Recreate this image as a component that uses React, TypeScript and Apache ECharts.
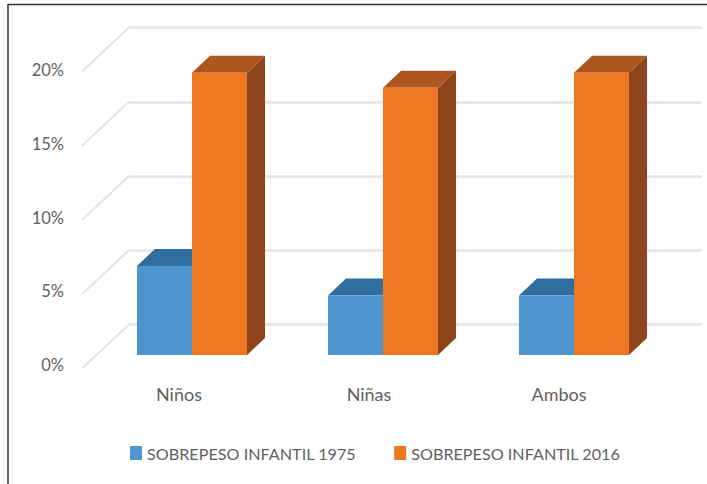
import React, { useEffect, useRef } from "react";
import * as echarts from "echarts";

const categories = ["Niños", "Niñas", "Ambos"];
const seriesNames = ["SOBREPESO INFANTIL 1975", "SOBREPESO INFANTIL 2016"];
const values1975 = [6, 4, 4];
const values2016 = [19, 18, 19];
const wallTicks = [0, 5, 10, 15, 20];

const FONT = "Lato, 'Open Sans', sans-serif";
const TEXT = "#5f5f63";
const GRID_LINE = "#e4e4e4";
const DEPTH_X = 18;
const DEPTH_Y = 17;
const BAR_RATIO = 0.288;

const faces = [
  { front: "#4e95d0", top: "#2f6e9e", side: "#2a6290", shift: -1 },
  { front: "#ee7722", top: "#ae5620", side: "#8f451b", shift: 0 },
];

function barRenderer(face: (typeof faces)[number]) {
  return (_: any, api: any) => {
    const [cx, yTop] = api.coord([api.value(0), api.value(1)]);
    const [, yBase] = api.coord([api.value(0), 0]);
    const w = api.size([1, 0])[0] * BAR_RATIO;
    const x0 = cx + face.shift * w;
    const x1 = x0 + w;
    return {
      type: "group",
      children: [
        {
          type: "polygon",
          shape: { points: [[x1, yTop], [x1 + DEPTH_X, yTop - DEPTH_Y], [x1 + DEPTH_X, yBase - DEPTH_Y], [x1, yBase]] },
          style: { fill: face.side },
        },
        {
          type: "polygon",
          shape: { points: [[x0, yTop], [x0 + DEPTH_X, yTop - DEPTH_Y], [x1 + DEPTH_X, yTop - DEPTH_Y], [x1, yTop]] },
          style: { fill: face.top },
        },
        {
          type: "rect",
          shape: { x: x0, y: yTop, width: w, height: yBase - yTop },
          style: { fill: face.front },
        },
      ],
    };
  };
}

function diagonalRenderer(_: any, api: any) {
  const [x, y] = api.coord([0, api.value(1)]);
  return {
    type: "line",
    shape: { x1: x, y1: y, x2: x - 47, y2: y + 44 },
    style: { stroke: GRID_LINE, lineWidth: 2 },
  };
}

export default function App() {
  const ref = useRef<HTMLDivElement>(null);
  useEffect(() => {
    document.body.style.margin = "0";
    const chart = echarts.init(ref.current!, null, { renderer: "svg" });
    chart.setOption({
      animation: false,
      backgroundColor: "#ffffff",
      textStyle: { fontFamily: FONT },
      graphic: [
        { type: "line", shape: { x1: 8, y1: 4, x2: 8, y2: 484 }, style: { stroke: "#333333", lineWidth: 1.5 } },
        { type: "line", shape: { x1: 8, y1: 4.5, x2: 707, y2: 4.5 }, style: { stroke: "#333333", lineWidth: 1.5 } },
      ],
      grid: [
        { left: 129, width: 573, top: 27.5, height: 297 },
        { left: 84, width: 570, top: 70, height: 295 },
        { left: 96.5, width: 573, top: 58, height: 297 },
      ],
      xAxis: [
        { type: "value", gridIndex: 0, min: 0, max: 1, show: false },
        {
          type: "category",
          gridIndex: 1,
          data: categories,
          axisLine: { show: false },
          axisTick: { show: false },
          axisLabel: { color: TEXT, fontSize: 18, margin: 20, fontFamily: FONT },
        },
        { type: "category", gridIndex: 2, data: categories, show: false },
      ],
      yAxis: [
        {
          type: "value",
          gridIndex: 0,
          min: 0,
          max: 20,
          interval: 5,
          axisLine: { show: false },
          axisTick: { show: false },
          axisLabel: { show: false },
          splitLine: { show: true, lineStyle: { color: GRID_LINE, width: 2.5 } },
        },
        {
          type: "value",
          gridIndex: 1,
          min: 0,
          max: 20,
          interval: 5,
          axisLine: { show: false },
          axisTick: { show: false },
          splitLine: { show: false },
          axisLabel: { color: TEXT, fontSize: 16.5, margin: 20, formatter: "{value}%", fontFamily: FONT },
        },
        { type: "value", gridIndex: 2, min: 0, max: 20, interval: 5, show: false, splitLine: { show: false } },
      ],
      legend: {
        left: 125,
        top: 440,
        icon: "rect",
        itemWidth: 12,
        itemHeight: 14,
        itemGap: 38,
        data: seriesNames,
        textStyle: { color: TEXT, fontSize: 16.2, padding: [0, 0, 0, 0], fontFamily: FONT },
      },
      series: [
        {
          type: "custom",
          name: "diagonales",
          xAxisIndex: 0,
          yAxisIndex: 0,
          silent: true,
          data: wallTicks.map((t) => [0, t]),
          encode: { x: 0, y: 1 },
          renderItem: diagonalRenderer,
        },
        {
          type: "custom",
          name: seriesNames[0],
          xAxisIndex: 2,
          yAxisIndex: 2,
          itemStyle: { color: faces[0].front },
          data: values1975.map((v, i) => [i, v]),
          encode: { x: 0, y: 1 },
          renderItem: barRenderer(faces[0]),
        },
        {
          type: "custom",
          name: seriesNames[1],
          xAxisIndex: 2,
          yAxisIndex: 2,
          itemStyle: { color: faces[1].front },
          data: values2016.map((v, i) => [i, v]),
          encode: { x: 0, y: 1 },
          renderItem: barRenderer(faces[1]),
        },
      ],
    });
    return () => chart.dispose();
  }, []);
  return <div ref={ref} style={{ width: 707, height: 484 }} />;
}
